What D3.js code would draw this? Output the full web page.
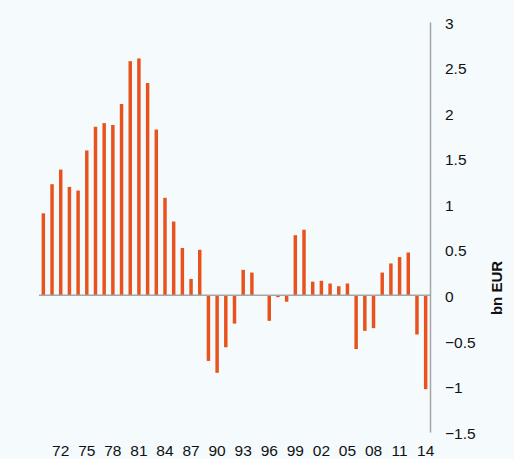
<!DOCTYPE html>
<html>
<head>
<meta charset="utf-8">
<script src="https://cdn.jsdelivr.net/npm/d3@7"></script>
<style>
  html, body { margin: 0; padding: 0; background: #f5fafd; }
  svg { display: block; font-family: Arial, "Liberation Sans", sans-serif; }
</style>
</head>
<body>
<svg id="chart" width="514" height="459"></svg>
<script>
// years 1970..2014
const years = d3.range(1970, 2015);
const values = [
  0.90, 1.22, 1.38, 1.19, 1.15, 1.59, 1.85, 1.89, 1.87, 2.10,
  2.57, 2.60, 2.33, 1.82, 1.07, 0.81, 0.52, 0.18, 0.50, -0.72,
  -0.85, -0.57, -0.31, 0.28, 0.25, 0, -0.28, -0.02, -0.07, 0.66,
  0.72, 0.15, 0.16, 0.13, 0.10, 0.13, -0.59, -0.39, -0.36, 0.25,
  0.35, 0.42, 0.47, -0.43, -1.03
];
const yTicks = [3, 2.5, 2, 1.5, 1, 0.5, 0, -0.5, -1, -1.5];
const xTickYears = d3.range(1972, 2015, 3);

const svg = d3.select("#chart");
const plotL = 39, plotR = 430, plotT = 22, plotB = 432;

const x = d3.scaleBand().domain(years).range([plotL, plotR]).paddingInner(0.6).paddingOuter(0.3);
const y = d3.scaleLinear().domain([-1.5, 3]).range([plotB, plotT]);

// bars
svg.append("g").selectAll("rect")
  .data(years)
  .enter().append("rect")
  .attr("x", d => x(d))
  .attr("width", x.bandwidth())
  .attr("y", (d, i) => y(Math.max(0, values[i])))
  .attr("height", (d, i) => Math.abs(y(values[i]) - y(0)))
  .attr("fill", "#e8531d");

// zero line
svg.append("line")
  .attr("x1", plotL).attr("x2", plotR)
  .attr("y1", y(0)).attr("y2", y(0))
  .attr("stroke", "#a6a6a6").attr("stroke-width", 1.5);

// right axis
const yAxis = svg.append("g")
  .attr("transform", `translate(${plotR},0)`)
  .call(d3.axisRight(y).tickValues(yTicks).tickSize(0).tickPadding(15).tickFormat(d3.format("")));
yAxis.select(".domain").attr("stroke", "#a6a6a6").attr("stroke-width", 1.5);
yAxis.selectAll("text").attr("font-size", 15.5).attr("fill", "#111").attr("dy", "0.4em");

// bottom labels
const xAxis = svg.append("g")
  .attr("transform", `translate(0,${plotB})`)
  .call(d3.axisBottom(x).tickValues(xTickYears).tickSize(0).tickPadding(13)
    .tickFormat(d => String(d).slice(2)));
xAxis.select(".domain").remove();
xAxis.selectAll("text").attr("font-size", 15.5).attr("fill", "#111");

// unit label
svg.append("text")
  .attr("transform", "translate(502,288) rotate(-90)")
  .attr("text-anchor", "middle")
  .attr("font-size", 15)
  .attr("font-weight", "bold")
  .attr("fill", "#111")
  .text("bn EUR");
</script>
</body>
</html>
